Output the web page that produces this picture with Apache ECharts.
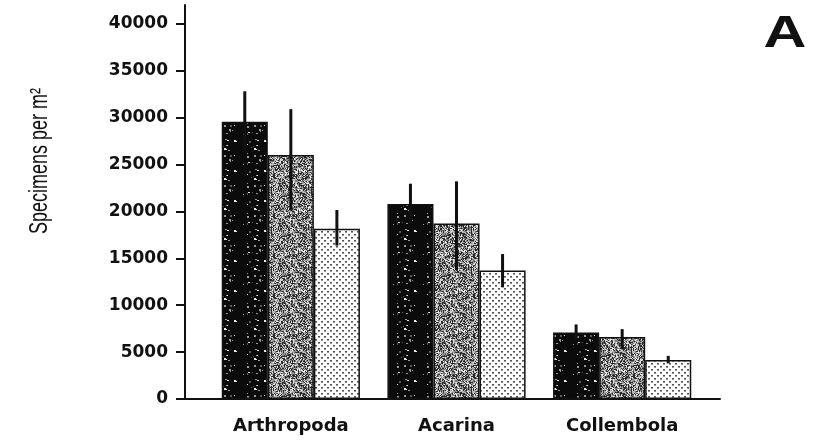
<!DOCTYPE html>
<html>
<head>
<meta charset="utf-8">
<script src="https://cdn.jsdelivr.net/npm/echarts@6/dist/echarts.min.js"></script>
<style>
html,body{margin:0;padding:0;background:#fff;}
#chart{width:825px;height:441px;}
</style>
</head>
<body>
<div id="chart"></div>
<script>
// ---- data ----
const categories = ['Arthropoda', 'Acarina', 'Collembola'];
const seriesBlack = [29550, 20800, 7100];
const seriesGray = [26000, 18700, 6600];
const seriesDotted = [18150, 13700, 4150];
const errHiBlack = [32800, 22950, 7950];
const errLoBlack = [26300, 18650, 6250];
const errHiGray = [30900, 23200, 7450];
const errLoGray = [20100, 13750, 5300];
const errHiDotted = [20150, 15450, 4600];
const errLoDotted = [16350, 11900, 3800];
const yTickValues = [0, 5000, 10000, 15000, 20000, 25000, 30000, 35000, 40000];

// ---- texture patterns (style only) ----
let seed = 12345;
function rnd() { seed = (seed * 1103515245 + 12345) & 0x7fffffff; return seed / 0x7fffffff; }
function makeCanvas(w, h) { const c = document.createElement('canvas'); c.width = w; c.height = h; return c; }

function patBlack() {
  const c = makeCanvas(30, 30), g = c.getContext('2d');
  g.fillStyle = '#0b0b0b'; g.fillRect(0, 0, 30, 30);
  for (let k = 0; k < 26; k++) {
    const x = Math.floor(rnd() * 30), y = Math.floor(rnd() * 30);
    const v = rnd();
    g.fillStyle = v < 0.5 ? '#e8e8e8' : (v < 0.8 ? '#9a9a9a' : '#5a5a5a');
    g.fillRect(x, y, rnd() < 0.5 ? 1 : 2, rnd() < 0.6 ? 1 : 2);
  }
  return c;
}
function patGray() {
  const c = makeCanvas(40, 40), g = c.getContext('2d');
  for (let y = 0; y < 40; y++) for (let x = 0; x < 40; x++) {
    const r = rnd();
    g.fillStyle = r < 0.33 ? '#2a2a2a' : (r < 0.58 ? '#7d7d7d' : (r < 0.84 ? '#b8b8b8' : '#f0f0f0'));
    g.fillRect(x, y, 1, 1);
  }
  return c;
}
function patDots() {
  const c = makeCanvas(6, 6), g = c.getContext('2d');
  g.fillStyle = '#ffffff'; g.fillRect(0, 0, 6, 6);
  g.fillStyle = '#555'; g.fillRect(0, 0, 2, 1); g.fillRect(3, 3, 2, 1);
  g.fillStyle = '#999'; g.fillRect(0, 1, 2, 1); g.fillRect(3, 4, 2, 1);
  return c;
}

const GAP = 0.166;
const chart = echarts.init(document.getElementById('chart'), null, { renderer: 'canvas' });

function barSeries(data, pattern) {
  return {
    type: 'bar', xAxisIndex: 0, yAxisIndex: 0, data: data,
    barGap: '0%', barCategoryGap: (GAP * 100) + '%',
    itemStyle: { color: { image: pattern, repeat: 'repeat' }, borderColor: '#111', borderWidth: 1.5 },
    silent: true
  };
}
function errSeries(si, lo, hi) {
  return {
    type: 'custom', xAxisIndex: 0, yAxisIndex: 0, z: 5, silent: true,
    encode: { x: 0, y: [1, 2] },
    data: lo.map((l, i) => [i, l, hi[i]]),
    renderItem: function (params, api) {
      const i = api.value(0);
      const band = api.size([1, 0])[0];
      const total = band * (1 - GAP);
      const bw = total / 3;
      const p1 = api.coord([i, api.value(1)]);
      const p2 = api.coord([i, api.value(2)]);
      const x = p1[0] - total / 2 + bw * (si + 0.5);
      return { type: 'line', shape: { x1: x, y1: p1[1], x2: x, y2: p2[1] }, style: { stroke: '#111', lineWidth: 3 } };
    }
  };
}

const option = {
  animation: false,
  backgroundColor: '#fff',
  grid: [
    { left: 208, width: 497, top: 5, height: 394 },
    { left: 185, width: 535, top: 5, height: 394 }
  ],
  xAxis: [
    { type: 'category', gridIndex: 0, data: categories,
      axisLine: { show: false }, axisTick: { show: false },
      axisLabel: { margin: 18, color: '#111', fontFamily: 'DejaVu Sans', fontWeight: 'bold', fontSize: 18 } },
    { type: 'value', gridIndex: 1, min: 0, max: 1,
      axisLine: { show: true, lineStyle: { color: '#111', width: 2 } },
      axisTick: { show: false }, axisLabel: { show: false }, splitLine: { show: false } }
  ],
  yAxis: [
    { type: 'value', gridIndex: 0, min: 0, max: 42000, show: false, splitLine: { show: false } },
    { type: 'value', gridIndex: 1, min: 0, max: 42000, interval: 5000,
      axisLine: { show: true, lineStyle: { color: '#111', width: 2 } },
      axisTick: { show: true, length: 9, lineStyle: { color: '#111', width: 2 },
        customValues: yTickValues },
      axisLabel: { margin: 17, color: '#111', fontFamily: 'DejaVu Sans', fontWeight: 'bold', fontSize: 17,
        customValues: yTickValues, formatter: function (v) { return String(v); } },
      splitLine: { show: false } }
  ],
  graphic: [
    { type: 'text', x: 40, y: 161, rotation: Math.PI / 2, scaleY: 1.4,
      style: { text: 'Specimens per m²', fontFamily: 'Liberation Sans', fontSize: 18, fill: '#111',
        align: 'center', verticalAlign: 'middle' } },
    { type: 'text', x: 785, y: 35, scaleX: 1.35,
      style: { text: 'A', fontFamily: 'Liberation Sans', fontWeight: 'bold', fontSize: 44, fill: '#111',
        align: 'center', verticalAlign: 'middle' } }
  ],
  series: [
    barSeries(seriesBlack, patBlack()),
    barSeries(seriesGray, patGray()),
    barSeries(seriesDotted, patDots()),
    errSeries(0, errLoBlack, errHiBlack),
    errSeries(1, errLoGray, errHiGray),
    errSeries(2, errLoDotted, errHiDotted)
  ]
};
chart.setOption(option);
</script>
</body>
</html>
